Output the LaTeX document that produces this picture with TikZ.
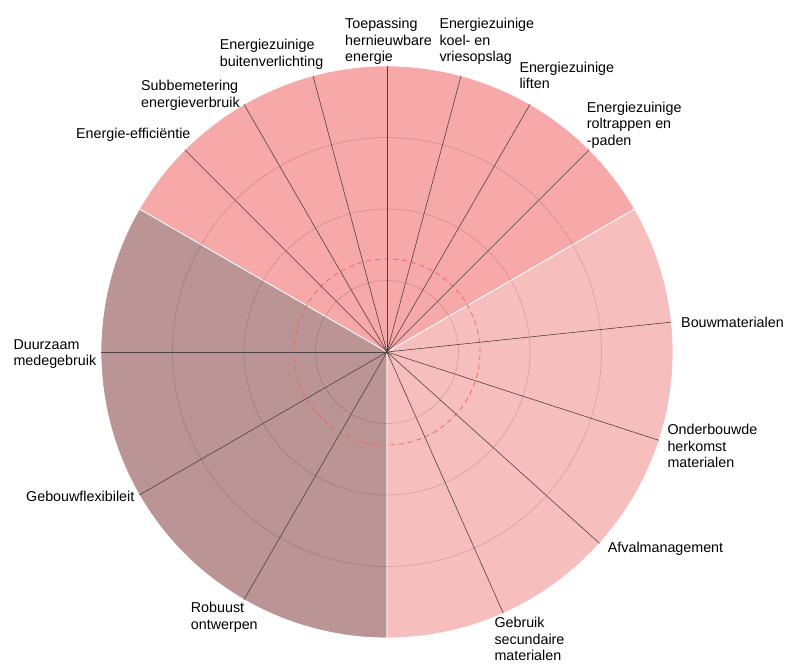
\documentclass[tikz,border=0pt]{standalone}
\usepackage{fontspec}
\setmainfont{Liberation Sans}
\definecolor{secA}{RGB}{247,168,168}
\definecolor{secB}{RGB}{187,149,149}
\definecolor{secC}{RGB}{247,190,190}
\definecolor{spokec}{RGB}{80,66,66}
\definecolor{dashc}{RGB}{238,96,96}
\tikzset{
  sector/.style={draw=white, line width=0.8pt},
  gridring/.style={draw=black, draw opacity=0.14, line width=0.7pt},
  dashring/.style={draw=dashc, line width=0.7pt, dash pattern=on 5pt off 4pt},
  spoke/.style={draw=spokec, line width=0.6pt},
  lbl/.style={anchor=north west, inner sep=0pt, align=left,
    font=\fontsize{14.3}{16.5}\selectfont}
}
\begin{document}
\begin{tikzpicture}[x=1pt,y=1pt]
\useasboundingbox (0,0) rectangle (786,664);
\coordinate (c) at (387,312);
\def\R{286pt}
% sectors
\path[sector, fill=secA] (c) -- ++(30:\R) arc[start angle=30, end angle=150, radius=\R] -- cycle;
\path[sector, fill=secB] (c) -- ++(150:\R) arc[start angle=150, end angle=270, radius=\R] -- cycle;
\path[sector, fill=secC] (c) -- ++(270:\R) arc[start angle=270, end angle=390, radius=\R] -- cycle;
% rings
\foreach \r in {71.5,143,214.5} \draw[gridring] (c) circle[radius=\r pt];
\draw[dashring] (c) circle[radius=93pt];
% spoke ends
\foreach \a/\n in {135/eff,120/subb,105/buit,90/toep,75/koel,60/lift,45/rolt,
                   6/bouw,-18/onder,-42/afval,-66/gebr,
                   180/duur,210/flex,240/rob}
  {\path (c) ++(\a:\R) coordinate (e\n);
   \draw[spoke] (c) -- (e\n);}
% labels
\node[lbl] (ltoep)  at (345,645.7)   {Toepassing\\hernieuwbare\\energie};
\node[lbl] (lkoel)  at (439.3,645.7) {Energiezuinige\\koel- en\\vriesopslag};
\node[lbl] (llift)  at (519.3,602.3) {Energiezuinige\\liften};
\node[lbl] (lrolt)  at (586.7,562.3) {Energiezuinige\\roltrappen en\\-paden};
\node[lbl] (lbuit)  at (219.7,624.7) {Energiezuinige\\buitenverlichting};
\node[lbl] (lsubb)  at (141,584)     {Subbemetering\\energieverbruik};
\node[lbl] (leff)   at (76,536.3)    {Energie-efficiëntie};
\node[lbl] (lbouw)  at (681,347.3)   {Bouwmaterialen};
\node[lbl] (londer) at (667.3,240)   {Onderbouwde\\herkomst\\materialen};
\node[lbl] (lafval) at (607.7,122.3) {Afvalmanagement};
\node[lbl] (lgebr)  at (494.3,46.7)  {Gebruik\\secundaire\\materialen};
\node[lbl] (lrob)   at (190.7,61.7)  {Robuust\\ontwerpen};
\node[lbl] (lflex)  at (26,173)      {Gebouwflexibileit};
\node[lbl] (lduur)  at (13.3,325)    {Duurzaam\\medegebruik};
\end{tikzpicture}
\end{document}
